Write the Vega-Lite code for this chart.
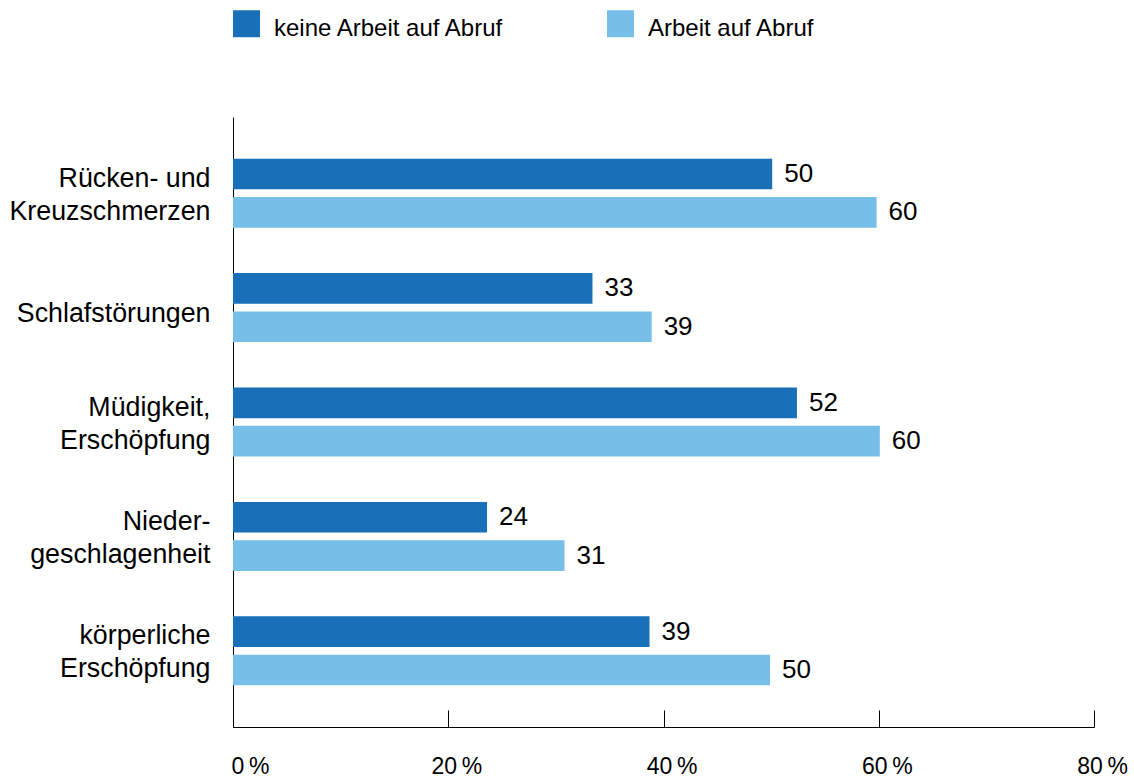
{
  "$schema": "https://vega.github.io/schema/vega-lite/v6.json",
  "autosize": "none",
  "width": 861,
  "height": 610,
  "padding": {"left": 233, "top": 117, "right": 40, "bottom": 52},
  "background": "white",
  "data": {
    "values": [
      {"cat": "Rücken- und|Kreuzschmerzen", "grp": "keine Arbeit auf Abruf", "value": 50.1, "label": "50"},
      {"cat": "Rücken- und|Kreuzschmerzen", "grp": "Arbeit auf Abruf", "value": 59.8, "label": "60"},
      {"cat": "Schlafstörungen", "grp": "keine Arbeit auf Abruf", "value": 33.4, "label": "33"},
      {"cat": "Schlafstörungen", "grp": "Arbeit auf Abruf", "value": 38.9, "label": "39"},
      {"cat": "Müdigkeit,|Erschöpfung", "grp": "keine Arbeit auf Abruf", "value": 52.4, "label": "52"},
      {"cat": "Müdigkeit,|Erschöpfung", "grp": "Arbeit auf Abruf", "value": 60.1, "label": "60"},
      {"cat": "Nieder-|geschlagenheit", "grp": "keine Arbeit auf Abruf", "value": 23.6, "label": "24"},
      {"cat": "Nieder-|geschlagenheit", "grp": "Arbeit auf Abruf", "value": 30.8, "label": "31"},
      {"cat": "körperliche|Erschöpfung", "grp": "keine Arbeit auf Abruf", "value": 38.7, "label": "39"},
      {"cat": "körperliche|Erschöpfung", "grp": "Arbeit auf Abruf", "value": 49.9, "label": "50"}
    ]
  },
  "encoding": {
    "y": {
      "field": "cat",
      "type": "nominal",
      "sort": null,
      "scale": {"paddingInner": 0.397, "paddingOuter": 0.364},
      "axis": {
        "title": null,
        "ticks": false,
        "labelExpr": "split(datum.label, '|')",
        "labelFont": "Liberation Sans",
        "labelFontSize": 26.8,
        "labelColor": "#000",
        "labelPadding": 23,
        "labelLimit": 400,
        "labelLineHeight": 33,
        "labelOffset": {"condition": {"test": "indexof(datum.label, '|') >= 0", "value": -14.5}, "value": 6},
        "domainColor": "#000",
        "domainWidth": 1
      }
    },
    "yOffset": {
      "field": "grp",
      "type": "nominal",
      "sort": ["keine Arbeit auf Abruf", "Arbeit auf Abruf"],
      "scale": {"paddingInner": 0.2}
    },
    "x": {
      "field": "value",
      "type": "quantitative",
      "scale": {"domain": [0, 80], "nice": false},
      "axis": {
        "title": null,
        "values": [0, 20, 40, 60, 80],
        "grid": false,
        "labelExpr": "datum.value + '\u202f%'",
        "labelFont": "Liberation Sans",
        "labelFontSize": 23,
        "labelColor": "#000",
        "tickSize": -17,
        "tickColor": "#000",
        "domainColor": "#000",
        "domainWidth": 1,
        "labelPadding": 45,
        "labelAlign": {"condition": {"test": "datum.value === 0", "value": "left"}, "value": "center"},
        "labelOffset": {"condition": {"test": "datum.value === 0", "value": -2}, "value": 8}
      }
    }
  },
  "layer": [
    {
      "mark": {"type": "bar"},
      "encoding": {
        "color": {
          "field": "grp",
          "type": "nominal",
          "sort": ["keine Arbeit auf Abruf", "Arbeit auf Abruf"],
          "scale": {"domain": ["keine Arbeit auf Abruf", "Arbeit auf Abruf"], "range": ["#1a70b8", "#77bee9"]},
          "legend": {
            "title": null,
            "orient": "none",
            "legendX": 0,
            "legendY": -107,
            "direction": "horizontal",
            "columns": 2,
            "symbolType": "square",
            "symbolSize": 729,
            "symbolStrokeWidth": 0,
            "symbolOpacity": 1,
            "labelFont": "Liberation Sans",
            "labelFontSize": 24,
            "labelColor": "#000",
            "labelOffset": 14,
            "columnPadding": 102,
            "padding": 0,
            "labelLimit": 400,
            "encode": {"labels": {"update": {"dy": {"value": 5}}}}
          }
        }
      }
    },
    {
      "mark": {"type": "text", "align": "left", "baseline": "middle", "dx": 12, "font": "Liberation Sans", "fontSize": 26, "color": "#000"},
      "encoding": {"text": {"field": "label"}}
    }
  ],
  "config": {"view": {"stroke": null}}
}
